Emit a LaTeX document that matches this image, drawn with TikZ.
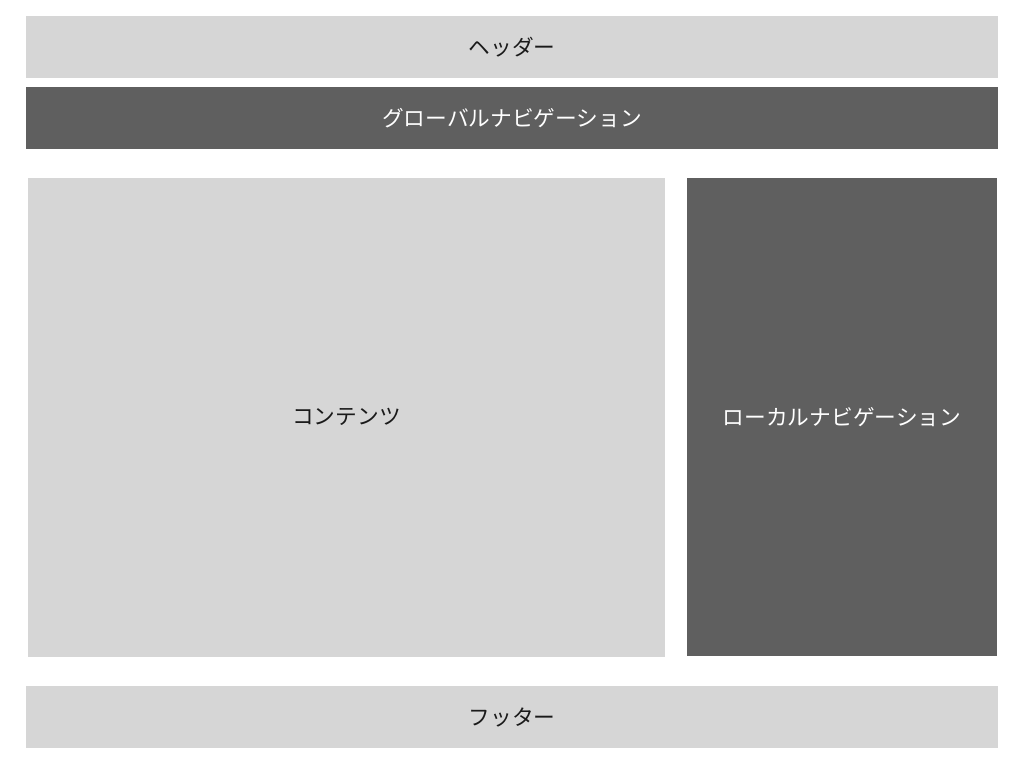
\documentclass[tikz,border=0pt]{standalone}
\usepackage{fontspec}
\newfontfamily\jp{Noto Sans CJK JP}
\definecolor{lightbox}{HTML}{D6D6D6}
\definecolor{darkbox}{HTML}{5F5F5F}
\definecolor{txt}{HTML}{1A1A1A}
\begin{document}
\begin{tikzpicture}[x=1pt,y=-1pt,
  lightarea/.style={fill=lightbox,draw=none,text=txt},
  darkarea/.style={fill=darkbox,draw=none,text=white},
  lbl/.style={font=\jp\fontsize{21.7}{26}\selectfont}]
\useasboundingbox (0,0) rectangle (1024,768);
\fill[white] (0,0) rectangle (1024,768);
\path[lightarea] (26,16) rectangle (998,78);
\node[lbl,text=txt] (header) at (512,47) {ヘッダー};
\path[darkarea] (26,87) rectangle (998,149);
\node[lbl,text=white] (gnav) at (512,118) {グローバルナビゲーション};
\path[lightarea] (28,178) rectangle (665,657);
\node[lbl,text=txt] (content) at (346.5,417) {コンテンツ};
\path[darkarea] (687,178) rectangle (997,656);
\node[lbl,text=white] (lnav) at (842,417) {ローカルナビゲーション};
\path[lightarea] (26,686) rectangle (998,748);
\node[lbl,text=txt] (footer) at (512,717) {フッター};
\end{tikzpicture}
\end{document}
